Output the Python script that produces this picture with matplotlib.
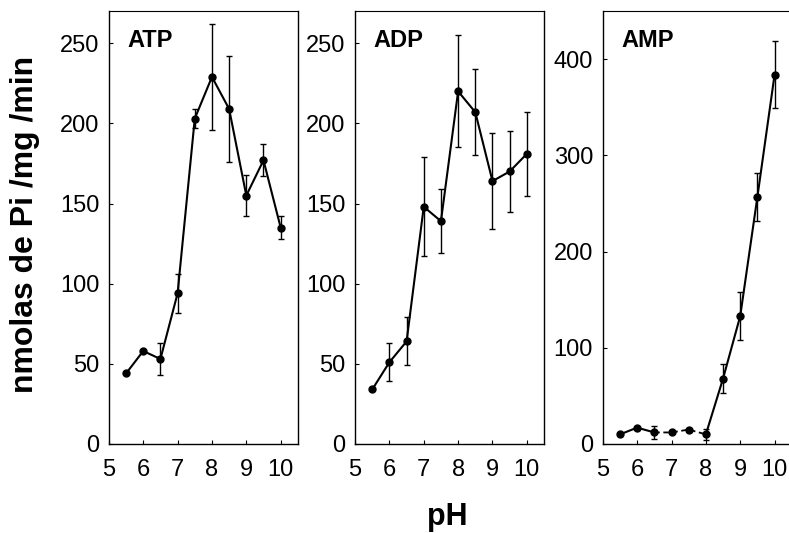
import numpy as np
import matplotlib
matplotlib.use('Agg')
import matplotlib.pyplot as plt

plt.rcParams['font.family'] = ['Liberation Sans Narrow', 'Liberation Sans', 'DejaVu Sans']

ph = [5.5, 6.0, 6.5, 7.0, 7.5, 8.0, 8.5, 9.0, 9.5, 10.0]

# ATP
atp = [44, 58, 53, 94, 203, 229, 209, 155, 177, 135]
atp_err = [0, 0, 10, 12, 6, 33, 33, 13, 10, 7]

# ADP
adp = [34, 51, 64, 148, 139, 220, 207, 164, 170, 181]
adp_err = [0, 12, 15, 31, 20, 35, 27, 30, 25, 26]

# AMP
amp = [10, 17, 12, 12, 15, 10, 68, 133, 257, 384]
amp_err = [0, 0, 7, 0, 0, 6, 15, 25, 25, 35]

panels = [
	('ATP', atp, atp_err, 270, [0, 50, 100, 150, 200, 250], 0.138),
	('ADP', adp, adp_err, 270, [0, 50, 100, 150, 200, 250], 0.450),
	('AMP', amp, amp_err, 450, [0, 100, 200, 300, 400], 0.764),
]

fig = plt.figure(figsize=(7.89, 5.33), dpi=100)

for name, vals, errs, ymax, yticks, left in panels:
	ax = fig.add_axes([left, 0.167, 0.2395, 0.812])
	yerr = np.array(errs, dtype=float)
	# error bars only where the original shows them
	ax.errorbar(ph, vals, yerr=np.where(yerr > 0, yerr, np.nan), fmt='none',
				ecolor='black', elinewidth=1.0, capsize=2.5, capthick=1.0)
	if name == 'AMP':
		# low-pH part drawn partly dashed in the original
		ax.plot(ph[:3], vals[:3], color='black', lw=1.5)
		ax.plot(ph[2:6], vals[2:6], color='black', lw=1.3, ls=(0, (3, 2)))
		ax.plot(ph[5:], vals[5:], color='black', lw=1.5)
		ax.plot(ph, vals, 'o', color='black', ms=5)
	else:
		ax.plot(ph, vals, '-o', color='black', lw=1.5, ms=5)

	ax.set_xlim(5, 10.5)
	ax.set_ylim(0, ymax)
	ax.set_xticks([5, 6, 7, 8, 9, 10])
	ax.set_yticks(yticks)
	ax.tick_params(direction='in', length=3, width=0.8, labelsize=17)
	ax.tick_params(axis='y', pad=7)
	ax.tick_params(axis='x', pad=11)
	for s in ax.spines.values():
		s.set_linewidth(1.0)
	ax.spines['top'].set_linestyle((0, (4, 1)))
	ax.spines['top'].set_linewidth(0.8)
	ax.text(0.096, 0.917, name, transform=ax.transAxes, fontsize=17,
			fontweight='bold', va='baseline', ha='left')

fig.text(0.032, 0.578, 'nmolas de Pi /mg /min', rotation=90, fontsize=23,
		 fontweight='bold', family=['Liberation Sans', 'DejaVu Sans'],
		 ha='center', va='center')
fig.text(0.567, 0.015, 'pH', fontsize=22, fontweight='bold',
		 ha='center', va='baseline')

fig.savefig('out.png', dpi=100)
